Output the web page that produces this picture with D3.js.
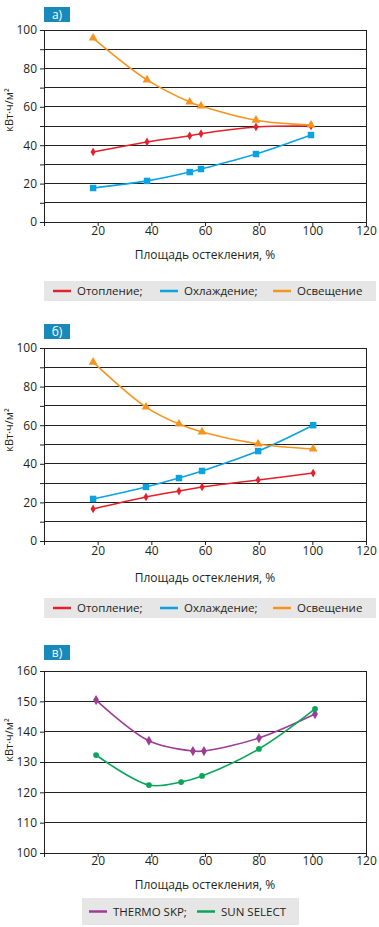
<!DOCTYPE html>
<html>
<head>
<meta charset="utf-8">
<script src="https://cdn.jsdelivr.net/npm/d3@7"></script>
<style>
  body { margin: 0; background: #fff; }
  svg { display: block; font-family: "Open Sans", "Noto Sans", sans-serif; }
</style>
</head>
<body>
<div id="chart"></div>
<script>
// Panel a)
const aX = [18.3, 38.4, 54.3, 58.5, 79, 99.5];
const aHeating = [36.5, 41.7, 44.9, 46, 49.5, 50];
const aCooling = [17.7, 21.4, 26, 27.6, 35.4, 45.3];
const aLighting = [95.8, 74, 62.5, 60.4, 53, 50.5];

// Panel б)
const bX = [18.3, 38, 50.3, 58.9, 79.8, 100.3];
const bHeating = [16.6, 22.8, 25.9, 28, 31.6, 35.2];
const bCooling = [21.8, 28, 32.6, 36.3, 46.6, 60];
const bLighting = [92.7, 69.4, 60.6, 56.5, 50.3, 47.7];

// Panel в)
const cX = [19.4, 39.1, 55.5, 59.6, 80.1, 101];
const cThermo = [150.4, 137, 133.6, 133.6, 137.9, 145.8];
const cSunX = [19.4, 39.1, 51.1, 58.9, 80.1, 101];
const cSun = [132.3, 122.4, 123.4, 125.4, 134.3, 147.5];

const xTicks = [20, 40, 60, 80, 100, 120];
const yTicksAB = [0, 20, 40, 60, 80, 100];
const yTicksC = [100, 110, 120, 130, 140, 150, 160];

const yLabel = "кВт·ч/м²";
const xTitle = "Площадь остекления, %";
const legendAB = ["Отопление;", "Охлаждение;", "Освещение"];
const legendC = ["THERMO SKP;", "SUN SELECT"];

const RED = "#e4202a", BLUE = "#0aa3e0", ORANGE = "#f7941e",
      PURPLE = "#9a3d96", GREEN = "#0aa55a", BOX = "#1889b8", INK = "#231f20", TXT = "#231f20";

const W = 379, H = 927;
const svg = d3.select("#chart").append("svg").attr("width", W).attr("height", H);

const left = 44, right = 366;
const x = d3.scaleLinear().domain([0, 120]).range([left, right]);

const panels = [
  {
    tag: "а)", top: 30, bottom: 222, box: 7, tickY: 238, titleY: 259, leg: [281, 301], ylabY: 110,
    yDomain: [0, 100], yTicks: yTicksAB, grid: 10,
    series: [
      { xs: aX, ys: aHeating, color: RED, sym: d3.symbolDiamond, size: 22 },
      { xs: aX, ys: aCooling, color: BLUE, sym: d3.symbolSquare, size: 42 },
      { xs: aX, ys: aLighting, color: ORANGE, sym: d3.symbolTriangle, size: 34 },
    ],
    legend: { x0: 44, x1: 376, items: legendAB, colors: [RED, BLUE, ORANGE], lineX: [53, 160, 273], lw: 18 },
  },
  {
    tag: "б)", top: 348, bottom: 541, box: 324, tickY: 558, titleY: 582, leg: [598, 618], ylabY: 430,
    yDomain: [0, 100], yTicks: yTicksAB, grid: 10,
    series: [
      { xs: bX, ys: bHeating, color: RED, sym: d3.symbolDiamond, size: 22 },
      { xs: bX, ys: bCooling, color: BLUE, sym: d3.symbolSquare, size: 42 },
      { xs: bX, ys: bLighting, color: ORANGE, sym: d3.symbolTriangle, size: 34 },
    ],
    legend: { x0: 44, x1: 376, items: legendAB, colors: [RED, BLUE, ORANGE], lineX: [53, 160, 273], lw: 18 },
  },
  {
    tag: "в)", top: 671, bottom: 853, box: 645, tickY: 868, titleY: 889, leg: [898, 925], ylabY: 740,
    yDomain: [100, 160], yTicks: yTicksC, grid: 10,
    series: [
      { xs: cX, ys: cThermo, color: PURPLE, sym: d3.symbolDiamond, size: 30 },
      { xs: cSunX, ys: cSun, color: GREEN, sym: d3.symbolCircle, size: 26 },
    ],
    legend: { x0: 82, x1: 299, items: legendC, colors: [PURPLE, GREEN], lineX: [89, 197], lw: 18 },
  },
];

panels.forEach((p) => {
  const g = svg.append("g");
  const y = d3.scaleLinear().domain(p.yDomain).range([p.bottom, p.top]);

  // panel tag box
  g.append("rect").attr("x", 44).attr("y", p.box).attr("width", 26).attr("height", 15).attr("fill", BOX);
  g.append("text").attr("x", 57).attr("y", p.box + 12).attr("text-anchor", "middle")
    .attr("fill", "#fff").style("font-size", "12px").text(p.tag);

  // horizontal grid every 10
  const gridVals = d3.range(p.yDomain[0] + p.grid, p.yDomain[1] + 0.01, p.grid);
  g.append("g").selectAll("line").data(gridVals).join("line")
    .attr("x1", left).attr("x2", right)
    .attr("y1", (d) => y(d)).attr("y2", (d) => y(d))
    .attr("stroke", INK).attr("stroke-width", 1).attr("shape-rendering", "crispEdges");
  // right border
  g.append("line").attr("x1", right).attr("x2", right).attr("y1", p.top).attr("y2", p.bottom)
    .attr("stroke", INK).attr("shape-rendering", "crispEdges");

  // y axis
  const yAxis = g.append("g").attr("transform", `translate(${left},0)`)
    .call(d3.axisLeft(y).tickValues(d3.range(p.yDomain[0], p.yDomain[1] + 0.01, p.grid))
      .tickSize(4).tickSizeOuter(0)
      .tickFormat((d) => p.yTicks.includes(d) ? d : ""));
  yAxis.select(".domain").attr("stroke", INK);
  yAxis.selectAll(".tick line").attr("stroke", INK);
  yAxis.selectAll(".tick text").attr("x", -7).attr("fill", TXT)
    .style("font-size", "12px").style("font-family", "'Open Sans', sans-serif");

  // x axis
  const xAxis = g.append("g").attr("transform", `translate(0,${p.bottom})`)
    .call(d3.axisBottom(x).tickValues([0, ...xTicks]).tickSize(4).tickSizeOuter(0)
      .tickFormat((d) => d === 0 ? "" : d));
  xAxis.select(".domain").attr("stroke", INK);
  xAxis.selectAll(".tick line").attr("stroke", INK);
  xAxis.selectAll(".tick text").attr("y", p.tickY - p.bottom - 3).attr("dy", 0).attr("fill", TXT)
    .style("font-size", "12px").style("font-family", "'Open Sans', sans-serif");

  // axis titles
  g.append("text").attr("x", 205).attr("y", p.titleY).attr("text-anchor", "middle")
    .attr("fill", TXT).style("font-size", "12px").text(xTitle);
  g.append("text").attr("transform", `translate(13,${p.ylabY}) rotate(-90)`).attr("text-anchor", "middle")
    .attr("fill", TXT).style("font-size", "11px").text(yLabel);

  // series
  const line = d3.line().x((d) => x(d[0])).y((d) => y(d[1])).curve(d3.curveCatmullRom.alpha(0.5));
  p.series.forEach((s) => {
    const pts = s.xs.map((v, i) => [v, s.ys[i]]);
    g.append("path").datum(pts).attr("d", line).attr("fill", "none")
      .attr("stroke", s.color).attr("stroke-width", 1.6);
    g.append("g").selectAll("path").data(pts).join("path")
      .attr("transform", (d) => `translate(${x(d[0])},${y(d[1])})`)
      .attr("d", d3.symbol(s.sym, s.size)).attr("fill", s.color);
  });

  // legend
  const L = p.legend;
  const lg = g.append("g");
  lg.append("rect").attr("x", L.x0).attr("y", p.leg[0]).attr("width", L.x1 - L.x0)
    .attr("height", p.leg[1] - p.leg[0]).attr("fill", "#e6e6e6");
  const cy = (p.leg[0] + p.leg[1]) / 2;
  L.items.forEach((name, i) => {
    lg.append("line").attr("x1", L.lineX[i]).attr("x2", L.lineX[i] + L.lw)
      .attr("y1", cy).attr("y2", cy).attr("stroke", L.colors[i]).attr("stroke-width", 2.5);
    lg.append("text").attr("x", L.lineX[i] + L.lw + 6).attr("y", cy + 4)
      .attr("fill", TXT).style("font-size", "11.5px").text(name);
  });
});
</script>
</body>
</html>
